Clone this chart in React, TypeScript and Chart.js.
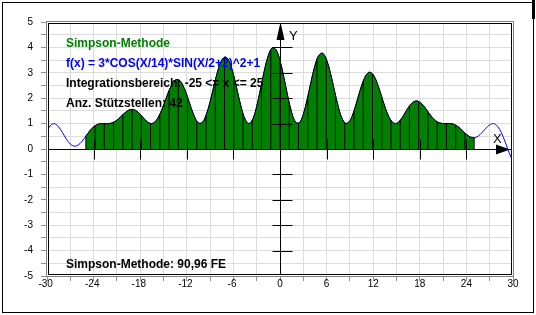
import React, { useEffect, useRef } from 'react';
import { Chart, registerables } from 'chart.js';

Chart.register(...registerables);

// f(x) = 3*COS(X/14)*SIN(X/2+2)^2+1, values read at half-unit steps
const curveX = [
  -30, -29.5, -29, -28.5, -28, -27.5, -27, -26.5, -26, -25.5, -25, -24.5, -24, -23.5, -23, -22.5, -22, -21.5, -21, -20.5,
  -20, -19.5, -19, -18.5, -18, -17.5, -17, -16.5, -16, -15.5, -15, -14.5, -14, -13.5, -13, -12.5, -12, -11.5, -11, -10.5,
  -10, -9.5, -9, -8.5, -8, -7.5, -7, -6.5, -6, -5.5, -5, -4.5, -4, -3.5, -3, -2.5, -2, -1.5, -1, -0.5,
  0, 0.5, 1, 1.5, 2, 2.5, 3, 3.5, 4, 4.5, 5, 5.5, 6, 6.5, 7, 7.5, 8, 8.5, 9, 9.5,
  10, 10.5, 11, 11.5, 12, 12.5, 13, 13.5, 14, 14.5, 15, 15.5, 16, 16.5, 17, 17.5, 18, 18.5, 19, 19.5,
  20, 20.5, 21, 21.5, 22, 22.5, 23, 23.5, 24, 24.5, 25, 25.5, 26, 26.5, 27, 27.5, 28, 28.5, 29, 29.5, 30,
];
const curveY = [
  0.713, 0.949, 0.994, 0.870, 0.641, 0.389, 0.195, 0.111, 0.153, 0.300, 0.505, 0.711, 0.873, 0.967, 0.999, 0.997, 1.000, 1.041, 1.135, 1.272,
  1.416, 1.525, 1.560, 1.502, 1.364, 1.192, 1.048, 1.001, 1.097, 1.347, 1.715, 2.129, 2.490, 2.708, 2.717, 2.507, 2.125, 1.668, 1.261, 1.026,
  1.045, 1.340, 1.860, 2.492, 3.086, 3.498, 3.620, 3.416, 2.932, 2.288, 1.646, 1.174, 1.000, 1.178, 1.674, 2.372, 3.103, 3.686, 3.977, 3.903,
  3.480, 2.815, 2.072, 1.435, 1.059, 1.035, 1.361, 1.950, 2.649, 3.280, 3.686, 3.768, 3.509, 2.979, 2.311, 1.666, 1.197, 1.003, 1.111, 1.473,
  1.978, 2.487, 2.866, 3.022, 2.922, 2.602, 2.146, 1.667, 1.275, 1.046, 1.008, 1.137, 1.369, 1.619, 1.810, 1.890, 1.844, 1.694, 1.488, 1.282,
  1.122, 1.031, 1.001, 1.004, 1.000, 0.957, 0.861, 0.723, 0.579, 0.472, 0.441, 0.502, 0.642, 0.814, 0.955, 0.998, 0.897, 0.642, 0.271, -0.143, -0.501,
];

// Simpson support points (42 intervals on [-25, 25])
const nodeX = [
  -25, -23.810, -22.619, -21.429, -20.238, -19.048, -17.857, -16.667, -15.476, -14.286, -13.095, -11.905, -10.714, -9.524, -8.333,
  -7.143, -5.952, -4.762, -3.571, -2.381, -1.190, 0, 1.190, 2.381, 3.571, 4.762, 5.952, 7.143, 8.333, 9.524, 10.714, 11.905,
  13.095, 14.286, 15.476, 16.667, 17.857, 19.048, 20.238, 21.429, 22.619, 23.810, 25,
];
const nodeY = [
  0.505, 0.917, 0.998, 1.051, 1.349, 1.560, 1.316, 1.003, 1.362, 2.296, 2.733, 2.040, 1.099, 1.320, 2.702,
  3.618, 2.875, 1.391, 1.131, 2.550, 3.908, 3.480, 1.807, 1.007, 2.047, 3.529, 3.547, 2.117, 1.034, 1.495, 2.672, 2.960,
  2.053, 1.121, 1.128, 1.693, 1.869, 1.467, 1.070, 1.003, 0.938, 0.632, 0.441,
];
const integrationFrom = -25;
const integrationTo = 25;

const xTickValues = [-30, -24, -18, -12, -6, 0, 6, 12, 18, 24, 30];
const xTickLabels = ['-30', '-24', '-18', '-12', '-6', '0', '6', '12', '18', '24', '30'];
const yTickValues = [5, 4, 3, 2, 1, 0, -1, -2, -3, -4, -5];
const yTickLabels = ['5', '4', '3', '2', '1', '0', '-1', '-2', '-3', '-4', '-5'];
const axisMarksX = [-24, -18, -12, -6, 6, 12, 18, 24];
const axisMarksY = [-4, -3, -2, -1, 1, 2, 3, 4];

const infoTexts = [
  'Simpson-Methode',
  'f(x) = 3*COS(X/14)*SIN(X/2+2)^2+1',
  'Integrationsbereich: -25 <= x <= 25',
  'Anz. Stützstellen: 42',
];
const infoColors = ['#008000', '#0000ff', '#000000', '#000000'];
const resultText = 'Simpson-Methode: 90,96 FE';

const overlayPlugin = {
  id: 'overlay',
  beforeDraw(chart: any) {
    const { ctx, width, height } = chart;
    ctx.save();
    ctx.fillStyle = '#ffffff';
    ctx.fillRect(0, 0, width, height);
    ctx.restore();
  },
  afterDatasetsDraw(chart: any) {
    const { ctx, chartArea: a, scales } = chart;
    const xs = scales.x;
    const ys = scales.y;
    const ox = Math.round(xs.getPixelForValue(0)) + 0.5;
    const oy = Math.round(ys.getPixelForValue(0)) + 0.5;
    ctx.save();
    ctx.strokeStyle = '#000';
    ctx.lineWidth = 1;
    ctx.beginPath();
    ctx.moveTo(a.left, oy);
    ctx.lineTo(a.right, oy);
    ctx.moveTo(ox, a.top);
    ctx.lineTo(ox, a.bottom);
    for (const v of axisMarksX) {
      const px = Math.round(xs.getPixelForValue(v)) + 0.5;
      ctx.moveTo(px, oy - 10);
      ctx.lineTo(px, oy + 10);
    }
    for (const v of axisMarksY) {
      const py = Math.round(ys.getPixelForValue(v)) + 0.5;
      ctx.moveTo(ox - 8, py);
      ctx.lineTo(ox + 12, py);
    }
    ctx.stroke();

    ctx.fillStyle = '#000';
    ctx.beginPath();
    ctx.moveTo(a.right - 3, oy);
    ctx.lineTo(a.right - 17, oy - 5);
    ctx.lineTo(a.right - 17, oy + 5);
    ctx.closePath();
    ctx.fill();
    ctx.beginPath();
    ctx.moveTo(ox, a.top);
    ctx.lineTo(ox - 4, a.top + 18);
    ctx.lineTo(ox + 4, a.top + 18);
    ctx.closePath();
    ctx.fill();

    ctx.font = '13px "Liberation Sans"';
    ctx.textBaseline = 'alphabetic';
    ctx.textAlign = 'left';
    ctx.fillText('X', a.right - 20, oy - 7);
    ctx.fillText('Y', ox + 8.5, a.top + 18);

    ctx.font = 'bold 12px "Liberation Sans"';
    infoTexts.forEach((t, i) => {
      ctx.fillStyle = infoColors[i];
      ctx.fillText(t, a.left + 19, a.top + 24.5 + i * 20);
    });
    ctx.fillStyle = '#000';
    ctx.fillText(resultText, a.left + 19, a.bottom - 8.5);

    const w = a.right - a.left;
    const h = a.bottom - a.top;
    ctx.strokeStyle = '#808080';
    ctx.strokeRect(a.left - 0.5, a.top - 0.5, w + 1, h + 1);
    ctx.strokeStyle = '#ffffff';
    ctx.strokeRect(a.left + 0.5, a.top + 0.5, w - 1, h - 1);
    ctx.strokeStyle = '#000000';
    ctx.strokeRect(a.left + 1.5, a.top + 1.5, w - 3, h - 3);
    ctx.restore();
  },
  afterDraw(chart: any) {
    const { ctx } = chart;
    ctx.save();
    ctx.strokeStyle = '#000';
    ctx.lineWidth = 1;
    ctx.strokeRect(2.5, 2.5, 531, 310);
    ctx.fillStyle = '#000';
    ctx.fillRect(532, 0, 3, 19);
    ctx.restore();
  },
};

export default function App() {
  const canvasRef = useRef<HTMLCanvasElement | null>(null);

  useEffect(() => {
    document.body.style.margin = '0';
    const canvas = canvasRef.current;
    if (!canvas) return;

    const curveData = curveX.map((x, i) => ({ x, y: curveY[i] }));
    const areaData = curveData.filter((p) => p.x >= integrationFrom && p.x <= integrationTo);
    const stripData: { x: number; y: number | null }[] = [];
    nodeX.forEach((x, i) => {
      stripData.push({ x, y: 0 }, { x, y: nodeY[i] }, { x, y: null });
    });

    const chart = new Chart(canvas, {
      type: 'line',
      data: {
        datasets: [
          {
            data: stripData as any,
            borderColor: '#000000',
            borderWidth: 1,
            tension: 0,
            pointRadius: 0,
            fill: false,
            spanGaps: false,
          },
          {
            data: areaData,
            borderColor: '#000000',
            backgroundColor: '#008000',
            borderWidth: 1,
            tension: 0.35,
            pointRadius: 0,
            fill: 'origin',
          },
          {
            data: curveData,
            borderColor: '#0000ff',
            borderWidth: 1,
            tension: 0.35,
            pointRadius: 0,
            fill: false,
          },
        ],
      },
      options: {
        responsive: false,
        animation: false,
        devicePixelRatio: 1,
        layout: { padding: { top: 22, right: 23, left: 0, bottom: 0 } },
        plugins: { legend: { display: false }, tooltip: { enabled: false } },
        elements: { point: { radius: 0 } },
        scales: {
          x: {
            type: 'linear',
            min: -30,
            max: 30,
            border: { display: false },
            grid: { color: '#dcdcdc', tickColor: '#909090', tickLength: 5 },
            ticks: {
              stepSize: 3,
              autoSkip: false,
              maxRotation: 0,
              padding: -2,
              color: '#000',
              font: { family: '"Liberation Sans"', size: 10, lineHeight: 1 },
              callback: (v: any) => {
                const i = xTickValues.indexOf(Number(v));
                if (i < 0) return '';
                const s = xTickLabels[i];
                return s.startsWith('-') ? s + ' ' : s;
              },
            },
            afterFit: (s: any) => {
              s.height = 39;
              s.paddingLeft = 0;
              s.paddingRight = 0;
            },
          },
          y: {
            type: 'linear',
            min: -5,
            max: 5,
            border: { display: false },
            grid: { color: '#dcdcdc', tickColor: '#909090', tickLength: 6 },
            ticks: {
              stepSize: 0.5,
              autoSkip: false,
              padding: 8,
              color: '#000',
              font: { family: '"Liberation Sans"', size: 10, lineHeight: 1 },
              callback: (v: any) => {
                const i = yTickValues.indexOf(Number(v));
                return i < 0 ? '' : yTickLabels[i];
              },
            },
            afterFit: (s: any) => {
              s.width = 47;
              s.paddingTop = 0;
              s.paddingBottom = 0;
            },
          },
        },
      },
      plugins: [overlayPlugin],
    });

    return () => {
      chart.destroy();
    };
  }, []);

  return (
    <div>
      <canvas ref={canvasRef} width={536} height={315} style={{ display: 'block' }} />
    </div>
  );
}
